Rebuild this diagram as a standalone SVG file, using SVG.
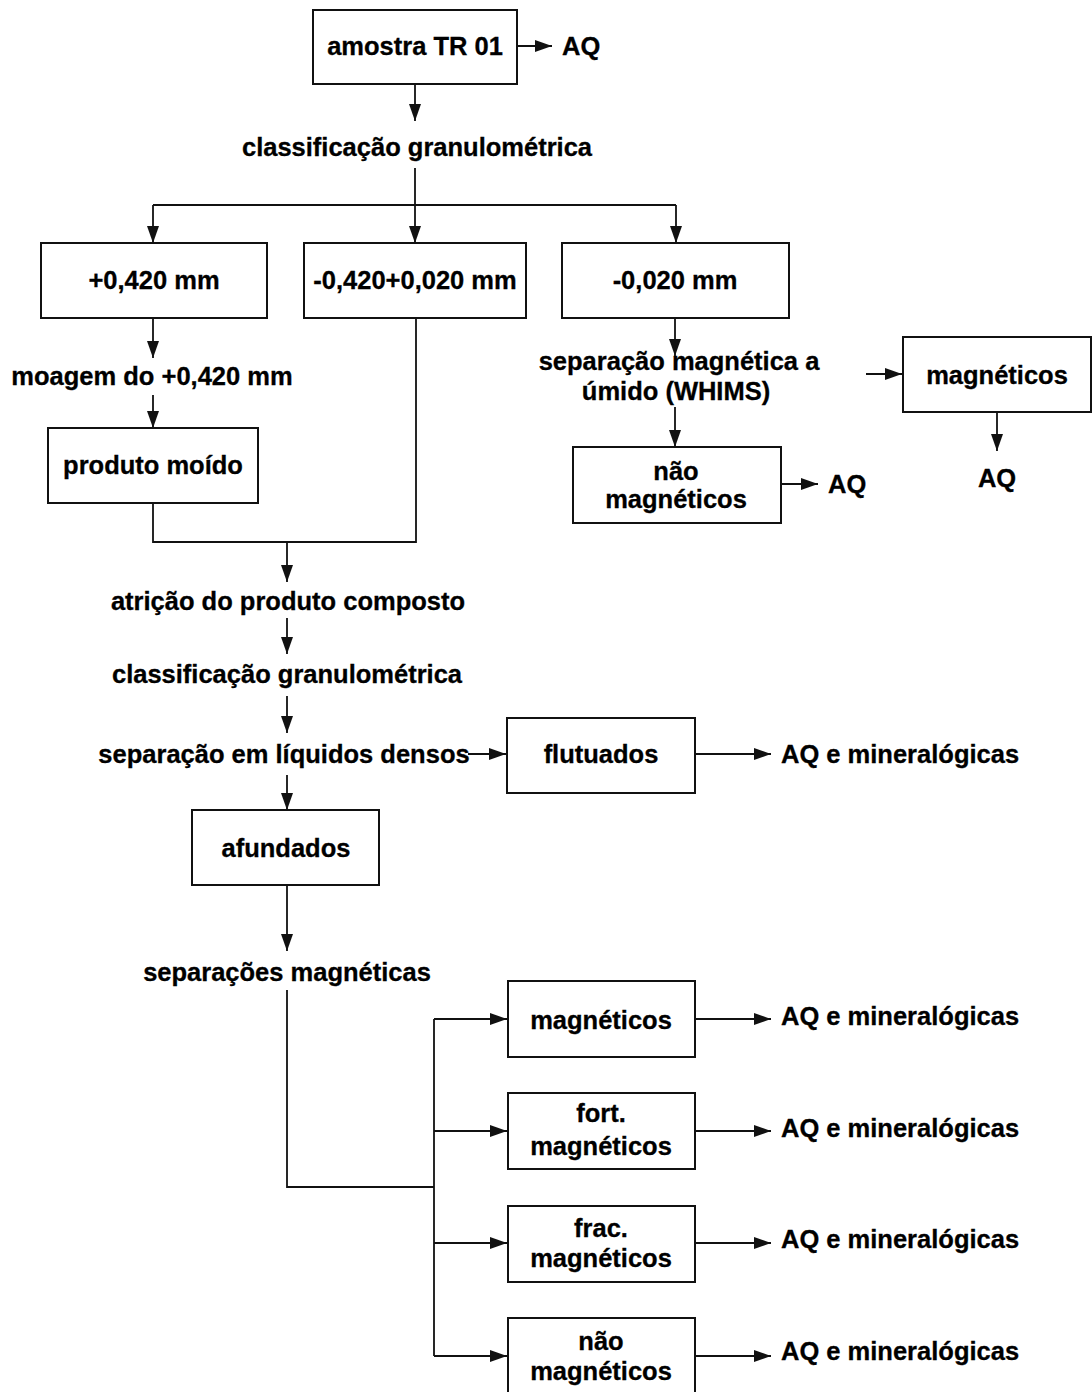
<svg xmlns="http://www.w3.org/2000/svg" width="1092" height="1392" viewBox="0 0 1092 1392">
<defs>
<style>
text{font-family:"Liberation Sans",Arial,sans-serif;font-weight:bold;font-size:25.5px;fill:#000;stroke:#000;stroke-width:0.3;}
.c{text-anchor:middle;}
rect{fill:#fff;stroke:#111;stroke-width:2;}
.ln{fill:none;stroke:#111;stroke-width:1.8;}
.ar{fill:none;stroke:#111;stroke-width:1.8;marker-end:url(#ah);}
</style>
<marker id="ah" markerUnits="userSpaceOnUse" markerWidth="18" markerHeight="12" refX="17" refY="6" orient="auto">
<path d="M0,0 L17,6 L0,12 z" fill="#111"/>
</marker>
</defs>
<rect x="0" y="0" width="1092" height="1392" style="fill:#fff;stroke:none"/>
<g id="connectors">
<line class="ar" x1="518" y1="46" x2="552" y2="46"/>
<line class="ar" x1="415" y1="84" x2="415" y2="121"/>
<path class="ln" d="M415,168 V205 M153,205 H676"/>
<line class="ar" x1="153" y1="205" x2="153" y2="243"/>
<line class="ar" x1="415" y1="205" x2="415" y2="243"/>
<line class="ar" x1="676" y1="205" x2="676" y2="243"/>
<line class="ar" x1="153" y1="318" x2="153" y2="358"/>
<line class="ar" x1="153" y1="395" x2="153" y2="428"/>
<path class="ln" d="M153,503 V542 H416 V318"/>
<line class="ar" x1="287" y1="542" x2="287" y2="582"/>
<line class="ar" x1="675" y1="318" x2="675" y2="356"/>
<line class="ar" x1="675" y1="407" x2="675" y2="447"/>
<line class="ar" x1="781" y1="484" x2="818" y2="484"/>
<line class="ar" x1="866" y1="374" x2="902" y2="374"/>
<line class="ar" x1="997" y1="412" x2="997" y2="451"/>
<line class="ar" x1="287" y1="618" x2="287" y2="654"/>
<line class="ar" x1="287" y1="696" x2="287" y2="733"/>
<line class="ar" x1="468" y1="754" x2="506" y2="754"/>
<line class="ar" x1="695" y1="754" x2="771" y2="754"/>
<line class="ar" x1="287" y1="775" x2="287" y2="810"/>
<line class="ar" x1="287" y1="886" x2="287" y2="951"/>
<path class="ln" d="M287,990 V1187 H434 M434,1019 V1356"/>
<line class="ar" x1="434" y1="1019" x2="507" y2="1019"/>
<line class="ar" x1="434" y1="1131" x2="507" y2="1131"/>
<line class="ar" x1="434" y1="1243" x2="507" y2="1243"/>
<line class="ar" x1="434" y1="1356" x2="507" y2="1356"/>
<line class="ar" x1="695" y1="1019" x2="771" y2="1019"/>
<line class="ar" x1="695" y1="1131" x2="771" y2="1131"/>
<line class="ar" x1="695" y1="1243" x2="771" y2="1243"/>
<line class="ar" x1="695" y1="1356" x2="771" y2="1356"/>
</g>
<g id="amostra"><rect x="313" y="10" width="204" height="74"/><text class="c" x="415" y="55">amostra TR 01</text></g>
<g id="aq1"><text x="562" y="55">AQ</text></g>
<g id="classif1"><text class="c" x="417" y="156">classificação granulométrica</text></g>
<g id="f420"><rect x="41" y="243" width="226" height="75"/><text class="c" x="154" y="289">+0,420 mm</text></g>
<g id="f420020"><rect x="304" y="243" width="222" height="75"/><text class="c" x="415" y="289">-0,420+0,020 mm</text></g>
<g id="f020"><rect x="562" y="243" width="227" height="75"/><text class="c" x="675" y="289">-0,020 mm</text></g>
<g id="moagem"><text class="c" x="152" y="385">moagem do +0,420 mm</text></g>
<g id="moido"><rect x="48" y="428" width="210" height="75"/><text class="c" x="153" y="474">produto moído</text></g>
<g id="whims"><text class="c" x="679" y="370">separação magnética a</text><text class="c" x="676" y="400">úmido (WHIMS)</text></g>
<g id="naomag1"><rect x="573" y="447" width="208" height="76"/><text class="c" x="676" y="480">não</text><text class="c" x="676" y="508">magnéticos</text></g>
<g id="aq2"><text x="828" y="493">AQ</text></g>
<g id="mag1"><rect x="903" y="337" width="188" height="75"/><text class="c" x="997" y="384">magnéticos</text></g>
<g id="aq3"><text class="c" x="997" y="487">AQ</text></g>
<g id="atricao"><text class="c" x="288" y="610">atrição do produto composto</text></g>
<g id="classif2"><text class="c" x="287" y="683">classificação granulométrica</text></g>
<g id="liquidos"><text class="c" x="284" y="763">separação em líquidos densos</text></g>
<g id="flutuados"><rect x="507" y="718" width="188" height="75"/><text class="c" x="601" y="763">flutuados</text></g>
<g id="aqmin1"><text x="781" y="763">AQ e mineralógicas</text></g>
<g id="afundados"><rect x="192" y="810" width="187" height="75"/><text class="c" x="286" y="857">afundados</text></g>
<g id="sepmag"><text class="c" x="287" y="981">separações magnéticas</text></g>
<g id="mag2"><rect x="508" y="981" width="187" height="76"/><text class="c" x="601" y="1029">magnéticos</text></g>
<g id="aqmin2"><text x="781" y="1025">AQ e mineralógicas</text></g>
<g id="fortmag"><rect x="508" y="1093" width="187" height="76"/><text class="c" x="601" y="1122">fort.</text><text class="c" x="601" y="1155">magnéticos</text></g>
<g id="aqmin3"><text x="781" y="1137">AQ e mineralógicas</text></g>
<g id="fracmag"><rect x="508" y="1206" width="187" height="76"/><text class="c" x="601" y="1237">frac.</text><text class="c" x="601" y="1267">magnéticos</text></g>
<g id="aqmin4"><text x="781" y="1248">AQ e mineralógicas</text></g>
<g id="naomag2"><rect x="508" y="1318" width="187" height="76"/><text class="c" x="601" y="1350">não</text><text class="c" x="601" y="1380">magnéticos</text></g>
<g id="aqmin5"><text x="781" y="1360">AQ e mineralógicas</text></g>
</svg>
